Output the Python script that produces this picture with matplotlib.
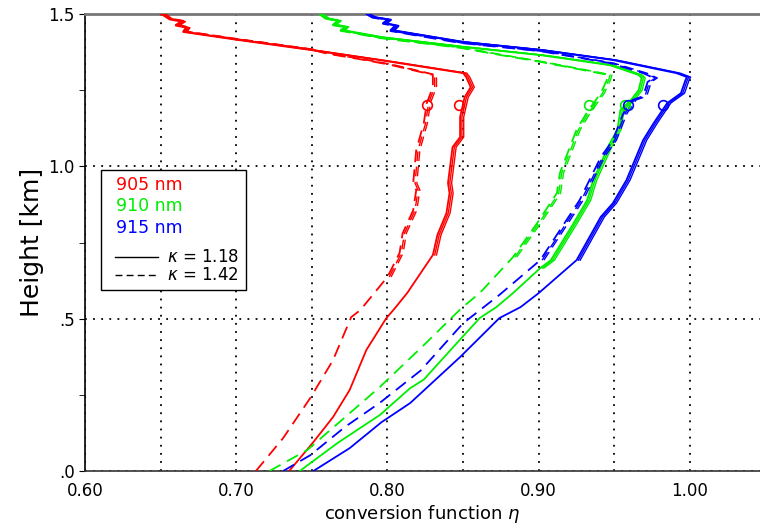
import numpy as np
import matplotlib
matplotlib.use("Agg")
from matplotlib import pyplot as plt
from matplotlib.patches import Rectangle
from matplotlib.lines import Line2D

plt.rcParams['font.family'] = ['DejaVu Sans']

# conversion function eta vs height
# 905 nm, kappa = 1.18
r_solid_eta = [0.735, 0.751, 0.764, 0.775, 0.786, 0.799, 0.805, 0.813, 0.830, 0.833,
               0.839, 0.841, 0.840, 0.843, 0.848, 0.848, 0.851, 0.855, 0.852, 0.850,
               0.797, 0.749, 0.698, 0.665, 0.667, 0.660, 0.664, 0.656, 0.652, 0.650]
r_solid_h = [0.0, 0.095, 0.177, 0.266, 0.397, 0.50, 0.535, 0.584, 0.709, 0.775,
             0.847, 0.912, 0.945, 1.063, 1.096, 1.162, 1.227, 1.26, 1.293, 1.306,
             1.347, 1.382, 1.417, 1.441, 1.455, 1.462, 1.475, 1.482, 1.495, 1.50]
# 905 nm, kappa = 1.42
r_dash_eta = [0.713, 0.731, 0.749, 0.764, 0.776, 0.782, 0.800, 0.808, 0.810, 0.817,
              0.819, 0.817, 0.819, 0.824, 0.826, 0.830, 0.830, 0.830, 0.802, 0.786,
              0.760, 0.749, 0.698, 0.665, 0.667, 0.660, 0.664, 0.656, 0.652, 0.650]
r_dash_h = [0.0, 0.108, 0.24, 0.364, 0.505, 0.528, 0.637, 0.716, 0.78, 0.856,
            0.922, 0.945, 1.053, 1.142, 1.208, 1.26, 1.293, 1.30, 1.333, 1.348,
            1.37, 1.384, 1.419, 1.443, 1.457, 1.464, 1.477, 1.484, 1.496, 1.50]
# 910 nm, kappa = 1.18
g_solid_eta = [0.742, 0.767, 0.795, 0.815, 0.824, 0.849, 0.861, 0.872, 0.883, 0.901,
               0.908, 0.923, 0.932, 0.936, 0.947, 0.952, 0.954, 0.961, 0.966, 0.968,
               0.966, 0.947, 0.914, 0.901, 0.848, 0.795, 0.769, 0.772, 0.764, 0.767,
               0.759, 0.755]
g_solid_h = [0.0, 0.092, 0.184, 0.272, 0.30, 0.437, 0.502, 0.538, 0.584, 0.666,
             0.692, 0.813, 0.889, 0.955, 1.076, 1.12, 1.185, 1.218, 1.25, 1.29,
             1.30, 1.332, 1.356, 1.365, 1.393, 1.424, 1.447, 1.458, 1.465, 1.478,
             1.486, 1.50]
# 910 nm, kappa = 1.42
g_dash_eta = [0.722, 0.747, 0.795, 0.824, 0.849, 0.861, 0.883, 0.899, 0.912, 0.914,
              0.925, 0.932, 0.941, 0.945, 0.946, 0.920, 0.901, 0.875, 0.848, 0.795,
              0.769, 0.772, 0.764, 0.767, 0.759, 0.755]
g_dash_h = [0.0, 0.069, 0.276, 0.413, 0.535, 0.584, 0.702, 0.814, 0.912, 0.978,
            1.12, 1.178, 1.24, 1.283, 1.30, 1.325, 1.343, 1.365, 1.389, 1.421,
            1.445, 1.456, 1.463, 1.476, 1.485, 1.50]
# 915 nm, kappa = 1.18
b_solid_eta = [0.751, 0.775, 0.796, 0.815, 0.848, 0.874, 0.888, 0.900, 0.925, 0.941,
               0.949, 0.958, 0.969, 0.976, 0.985, 0.994, 0.997, 0.998, 0.991, 0.949,
               0.901, 0.848, 0.802, 0.805, 0.797, 0.800, 0.790, 0.786]
b_solid_h = [0.0, 0.075, 0.16, 0.223, 0.374, 0.502, 0.538, 0.584, 0.692, 0.834,
             0.879, 0.955, 1.086, 1.142, 1.208, 1.24, 1.283, 1.293, 1.306, 1.349,
             1.382, 1.409, 1.447, 1.462, 1.470, 1.482, 1.490, 1.50]
# 915 nm, kappa = 1.42
b_dash_eta = [0.731, 0.749, 0.772, 0.795, 0.822, 0.850, 0.874, 0.901, 0.927, 0.941,
              0.949, 0.956, 0.962, 0.969, 0.972, 0.976, 0.969, 0.947, 0.901, 0.848,
              0.802, 0.805, 0.797, 0.800, 0.790, 0.786]
b_dash_h = [0.0, 0.052, 0.145, 0.224, 0.33, 0.485, 0.578, 0.692, 0.889, 1.03,
            1.086, 1.174, 1.218, 1.23, 1.277, 1.29, 1.306, 1.339, 1.378, 1.405,
            1.444, 1.460, 1.468, 1.480, 1.488, 1.50]

# reference-height markers (open circles at 1.2 km)
circle_eta = [0.847, 0.826, 0.957, 0.933, 0.982, 0.959]
circle_h = [1.2, 1.2, 1.2, 1.2, 1.2, 1.2]
circle_col = ['red', 'red', '#00ee00', '#00ee00', 'blue', 'blue']

wl_labels = ['905 nm', '910 nm', '915 nm']
wl_colors = ['red', '#00ee00', 'blue']
kappa_labels = [r'$\kappa$ = 1.18', r'$\kappa$ = 1.42']

curves = [
    (r_solid_eta, r_solid_h, 'red', '-'),
    (r_dash_eta, r_dash_h, 'red', '--'),
    (g_solid_eta, g_solid_h, '#00ee00', '-'),
    (g_dash_eta, g_dash_h, '#00ee00', '--'),
    (b_solid_eta, b_solid_h, 'blue', '-'),
    (b_dash_eta, b_dash_h, 'blue', '--'),
]

fig = plt.figure(figsize=(7.6, 5.24), dpi=100)
ax = fig.add_axes([85 / 760, 1 - 471 / 524, 675 / 760, 457 / 524])

for eta, h, col, ls in curves:
    eta = np.array(eta)
    h = np.array(h)
    kw = dict(color=col, zorder=3)
    if ls == '--':
        kw['dashes'] = (7, 4)
    ax.plot(eta, h, lw=1.3, **kw)
    # the upper part is drawn as a bundle of nearly identical profiles
    for dx in (0.0012, 0.0024):
        upper = np.where(h >= 0.6, eta + dx, np.nan)
        ax.plot(upper, h, lw=1.0, **kw)

for e, hh, c in zip(circle_eta, circle_h, circle_col):
    ax.plot(e, hh, 'o', mfc='none', mec=c, ms=7, mew=1.2, zorder=4)

ax.set_xlim(0.6, 1.0463)
ax.set_ylim(0.0, 1.5)

ax.set_xticks([0.6, 0.7, 0.8, 0.9, 1.0])
ax.set_xticklabels(['0.60', '0.70', '0.80', '0.90', '1.00'])
ax.set_xticks([0.65, 0.75, 0.85, 0.95], minor=True)
ax.set_yticks([0.0, 0.5, 1.0, 1.5])
ax.set_yticklabels(['.0', '.5', '1.0', '1.5'])
ax.set_yticks([0.25, 0.75, 1.25], minor=True)

ax.tick_params(axis='x', which='both', length=0, labelsize=12, pad=8)
ax.tick_params(axis='y', which='both', length=4, direction='out', labelsize=12)

grid_kw = dict(color='black', lw=1.3, linestyle=(0, (1, 3.5)))
ax.grid(True, axis='x', which='both', **grid_kw)
ax.grid(True, axis='y', which='major', **grid_kw)

ax.spines['right'].set_visible(False)
ax.spines['top'].set_color('#777777')
ax.spines['top'].set_linewidth(2)
ax.spines['left'].set_linewidth(1.2)
ax.spines['bottom'].set_linewidth(1.2)
ax.spines['bottom'].set_color('#333333')

ax.set_xlabel(r'conversion function $\eta$', fontsize=13, labelpad=2)
ax.set_ylabel('Height [km]', fontsize=18, labelpad=3)

# legend box
ax.add_patch(Rectangle((0.0237, 0.396), 0.2148, 0.2626, transform=ax.transAxes,
                       facecolor='white', edgecolor='black', lw=1.0, zorder=5))
for i, (lab, col) in enumerate(zip(wl_labels, wl_colors)):
    ax.text(0.046, 0.626 - i * 0.047, lab, color=col, fontsize=12.5,
            transform=ax.transAxes, va='center', zorder=6)
for i, (lab, ls) in enumerate(zip(kappa_labels, ['-', '--'])):
    y = 0.468 - i * 0.040
    ln = Line2D([0.0444, 0.108], [y, y], color='black', lw=1.0,
                transform=ax.transAxes, zorder=6)
    if ls == '--':
        ln.set_dashes((5, 3))
    ax.add_line(ln)
    ax.text(0.1215, y, lab, color='black', fontsize=12,
            transform=ax.transAxes, va='center', zorder=6)

fig.savefig('out.png', dpi=100)
